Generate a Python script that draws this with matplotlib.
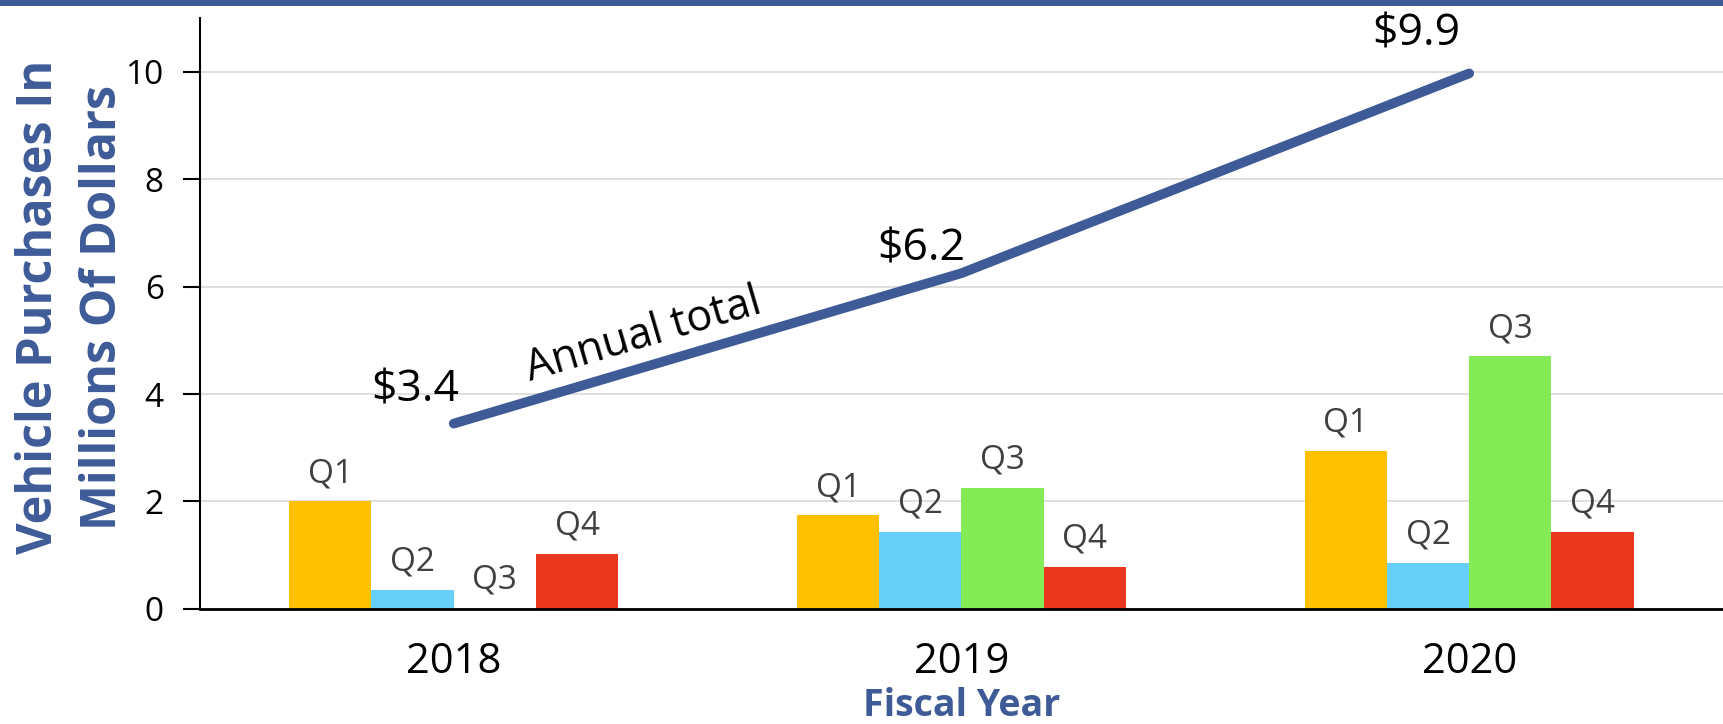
import matplotlib.pyplot as plt
from matplotlib.patches import Rectangle
import numpy as np

plt.rcParams['font.family'] = ['Open Sans', 'DejaVu Sans']

# data
years = ['2018', '2019', '2020']
quarters = ['Q1', 'Q2', 'Q3', 'Q4']
q1 = [2.0, 1.74, 2.94]
q2 = [0.35, 1.43, 0.86]
q3 = [0.02, 2.25, 4.70]
q4 = [1.02, 0.78, 1.43]
totals = [3.45, 6.25, 9.97]
total_labels = ['$3.4', '$6.2', '$9.9']

# label offsets in points (x, y) for the totals
total_offsets = [(-28, 24), (-29, 17), (-38, 28)]

bar_colors = ['#FFC000', '#66CFF8', '#84EA55', '#E9381E']
blue = '#3E5B98'

fig = plt.figure(figsize=(17.23, 7.24), dpi=100)
ax = fig.add_axes([0.116, 0.159, 0.884, 0.816])

x = np.arange(len(years))
width = 0.162
series = [q1, q2, q3, q4]
for k, vals in enumerate(series):
    pos = x + (k - 1.5) * width
    ax.bar(pos, vals, width, color=bar_colors[k], zorder=2)
    for xi, v in zip(pos, vals):
        ax.annotate(quarters[k], (xi, v), xytext=(0, 20), textcoords='offset points',
                    ha='center', va='center', fontsize=24, color='#404040')

# annual total line
ax.plot(x, totals, color=blue, lw=7, solid_capstyle='round', zorder=3)
for xi, t, lab, off in zip(x, totals, total_labels, total_offsets):
    ax.annotate(lab, (xi, t), xytext=off, textcoords='offset points',
                ha='center', va='center', fontsize=32, color='black')
ax.text(0.374, 5.09, 'Annual total', fontsize=31, rotation=16.4,
        rotation_mode='anchor', ha='center', va='center')

ax.set_xlim(-0.5, 2.5)
ax.set_ylim(0, 11)
ax.set_yticks(range(0, 11, 2))
ax.set_xticks(x)
ax.set_xticklabels(years, fontsize=30)
ax.tick_params(axis='x', length=0, pad=23)
ax.tick_params(axis='y', labelsize=24, length=12, width=1.5, pad=14)
ax.yaxis.grid(True, color='#d9d9d9', lw=1.2, zorder=0)
ax.set_axisbelow(True)
for s in ['top', 'right']:
    ax.spines[s].set_visible(False)
ax.spines['left'].set_linewidth(1.5)
ax.spines['bottom'].set_linewidth(2)

ax.set_xlabel('Fiscal Year', fontsize=27, fontweight='bold', color=blue, labelpad=3)
ax.set_ylabel('Vehicle Purchases In\nMillions Of Dollars', fontsize=35,
              fontweight='bold', color=blue, linespacing=1.4)
ax.yaxis.set_label_coords(-0.047, 0.511)

# blue band across the top
fig.add_artist(Rectangle((0, 1 - 6 / 724), 1, 6 / 724, transform=fig.transFigure,
                         color=blue, lw=0))

fig.savefig('out.png', dpi=100)
